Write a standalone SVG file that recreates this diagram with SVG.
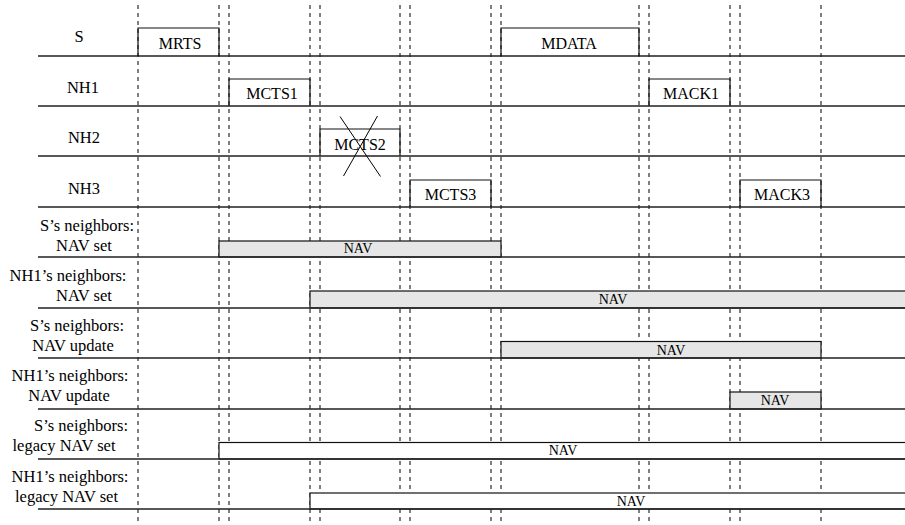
<svg xmlns="http://www.w3.org/2000/svg" width="905" height="525" viewBox="0 0 905 525">
<style>
text{font-family:"Liberation Serif","Times New Roman",serif;fill:#000}
.lbl{font-size:16.5px;text-anchor:middle}
.msg{font-size:16px;text-anchor:middle}
.nav{font-size:14px;text-anchor:middle}
.base{stroke:#222;stroke-width:1.4;fill:none}
.dash{stroke:#000;stroke-width:1;stroke-dasharray:4 4;fill:none}
.pulse{stroke:#111;stroke-width:1.2;fill:none}
.bar{stroke:#111;stroke-width:1.2;fill:#e6e6e6}
.bar2{stroke:#111;stroke-width:1.2;fill:#fff}
.cross{stroke:#000;stroke-width:1}
</style>
<rect width="905" height="525" fill="#fff"/>
<g id="grid">
<path class="dash" d="M138,5V522M219,5V522M229,5V522M310,5V522M320,5V522M400,5V522M410,5V522M491,5V522M501,5V522M639,5V522M649,5V522M730,5V522M740,5V522M821,5V522"/>
</g>
<g id="bars">
<rect class="bar" x="219" y="241" width="282" height="16"/>
<rect class="bar" x="310" y="291" width="600" height="17"/>
<rect class="bar" x="501" y="341.5" width="320" height="16.5"/>
<rect class="bar" x="730" y="392" width="91" height="17"/>
<rect class="bar2" x="219" y="442.5" width="690" height="16.5"/>
<rect class="bar2" x="310" y="493" width="600" height="16"/>
</g>
<g id="baselines">
<path class="base" d="M38,56H905M38,106H905M38,156H905M38,207H905M38,257H905M38,308H905M38,358H905M38,409H905M38,459H905M38,509H905"/>
</g>
<g id="row-S">
<text class="lbl" x="79" y="42">S</text>
<path class="pulse" d="M138,56V28H219V56"/>
<text class="msg" x="180" y="49">MRTS</text>
<path class="pulse" d="M501,56V28H639V56"/>
<text class="msg" x="569" y="49">MDATA</text>
</g>
<g id="row-NH1">
<text class="lbl" x="83" y="93">NH1</text>
<path class="pulse" d="M229,106V79H310V106"/>
<text class="msg" x="272" y="99">MCTS1</text>
<path class="pulse" d="M649,106V79H730V106"/>
<text class="msg" x="691" y="99">MACK1</text>
</g>
<g id="row-NH2">
<text class="lbl" x="84" y="143">NH2</text>
<path class="pulse" d="M320,156V129H400V156"/>
<text class="msg" x="360" y="150">MCTS2</text>
<path class="cross" d="M340,116.5L380.5,176.5M377.5,116L343.5,176"/>
</g>
<g id="row-NH3">
<text class="lbl" x="84" y="194">NH3</text>
<path class="pulse" d="M410,207V180H491V207"/>
<text class="msg" x="450.5" y="200">MCTS3</text>
<path class="pulse" d="M740,207V180H821V207"/>
<text class="msg" x="782" y="200">MACK3</text>
</g>
<g id="row-S-nav-set">
<text class="lbl" x="87" y="231">S’s neighbors:</text>
<text class="lbl" x="84" y="251">NAV set</text>
<text class="nav" x="358" y="253">NAV</text>
</g>
<g id="row-NH1-nav-set">
<text class="lbl" x="68" y="281">NH1’s neighbors:</text>
<text class="lbl" x="84" y="301">NAV set</text>
<text class="nav" x="613" y="304">NAV</text>
</g>
<g id="row-S-nav-update">
<text class="lbl" x="77" y="331">S’s neighbors:</text>
<text class="lbl" x="73" y="351">NAV update</text>
<text class="nav" x="671" y="355">NAV</text>
</g>
<g id="row-NH1-nav-update">
<text class="lbl" x="70" y="381">NH1’s neighbors:</text>
<text class="lbl" x="69" y="401">NAV update</text>
<text class="nav" x="775" y="405">NAV</text>
</g>
<g id="row-S-legacy">
<text class="lbl" x="81" y="431">S’s neighbors:</text>
<text class="lbl" x="64" y="451">legacy NAV set</text>
<text class="nav" x="563" y="455">NAV</text>
</g>
<g id="row-NH1-legacy">
<text class="lbl" x="70" y="482">NH1’s neighbors:</text>
<text class="lbl" x="66.5" y="502">legacy NAV set</text>
<text class="nav" x="631" y="506">NAV</text>
</g>
</svg>
